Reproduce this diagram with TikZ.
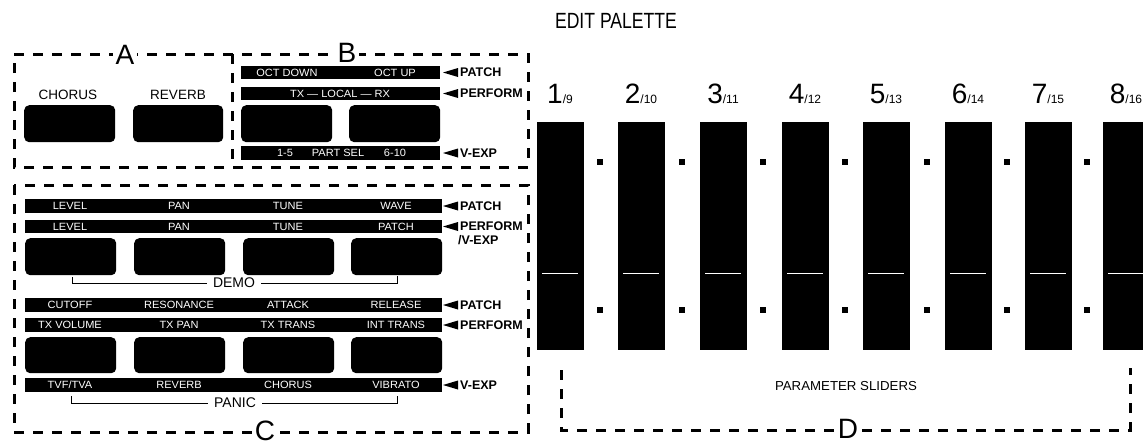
\documentclass[tikz,border=0pt]{standalone}
\usepackage{fontspec}
\setmainfont{Liberation Sans}
\newcommand\bignum[1]{{\fontsize{28}{28}\selectfont #1}}
\newcommand\smallnum[1]{{\fontsize{12}{12}\selectfont #1}}
\begin{document}
\begin{tikzpicture}[x=1pt,y=-1pt,
  bar/.style={fill=black, draw=none, inner sep=0pt, anchor=north west},
  btn/.style={fill=black, draw=none, rounded corners=5pt, inner sep=0pt, anchor=north west},
  bt/.style={text=white, inner sep=0pt, font=\fontsize{10.5}{11}\selectfont, xscale=1.05},
  lab/.style={inner sep=0pt, anchor=west, font=\bfseries\fontsize{12.5}{13}\selectfont},
  head/.style={inner sep=0pt, font=\fontsize{13.5}{14}\selectfont},
  dbox/.style={draw=black, line width=3pt, dash pattern=on 10pt off 9pt},
  letter/.style={fill=white, inner xsep=3pt, inner ysep=0.5pt, font=\fontsize{28}{28}\selectfont},
  thin/.style={draw=black, line width=0.8pt},
  slider/.style={fill=black, draw=none, inner sep=0pt, anchor=north west, minimum width=47pt, minimum height=228pt}
]
\useasboundingbox (0,0) rectangle (1143,445);
\fill[white] (0,0) rectangle (1143,445);

% title
\node[font=\fontsize{22}{22}\selectfont, xscale=0.8, inner sep=0pt] (title) at (616,20.5) {EDIT PALETTE};

% boxes A and B
\draw[dbox] (14,54) -- (528,54) -- (528,167) -- (14,167) -- cycle;
\draw[dbox] (232,54) -- (232,167);
\node[letter] (lA) at (125,55) {A};
\node[letter] (lB) at (347,53) {B};

% box C
\draw[dbox] (14,185) rectangle (528,432);
\node[letter] (lC) at (265,431) {C};

% box D
\draw[dbox] (561,370) -- (561,430) -- (1130,430) -- (1130,368);
\node[letter] (lD) at (848,429) {D};
\node[inner sep=0pt, font=\fontsize{13}{13}\selectfont, xscale=1.02] (psl) at (846,386) {PARAMETER SLIDERS};

% ---- A content
\node[head] (hch) at (68,95) {CHORUS};
\node[head] (hrv) at (178,95) {REVERB};
\node[btn, minimum width=91pt, minimum height=37pt] (abt1) at (24,105) {};
\node[btn, minimum width=90pt, minimum height=37pt] (abt2) at (133,105) {};

% ---- B content
\node[bar, minimum width=199pt, minimum height=13pt] (bb1) at (241,66) {};
\node[bar, minimum width=199pt, minimum height=13pt] (bb2) at (241,87) {};
\node[btn, minimum width=91pt, minimum height=37pt] (bbt1) at (241,105) {};
\node[btn, minimum width=91pt, minimum height=37pt] (bbt2) at (349,105) {};
\node[bar, minimum width=199pt, minimum height=14pt] (bb3) at (241,146) {};
\node[bt] (t1) at (287,72.5) {OCT DOWN};
\node[bt] (t2) at (395,72.5) {OCT UP};
\node[bt] (t3) at (340,93.5) {TX — LOCAL — RX};
\node[bt] (t4) at (285,153) {1-5};
\node[bt] (t5) at (338,153) {PART SEL};
\node[bt] (t6) at (395,153) {6-10};
\foreach \y/\t/\n in {72.5/PATCH/bl1, 93.5/PERFORM/bl2, 153/V-EXP/bl3}{
  \fill (443,\y) -- (458,\y-4.5) -- (458,\y+4.5) -- cycle;
  \node[lab] (\n) at (460,\y) {\t};
}

% ---- C content
\node[bar, minimum width=417pt, minimum height=14pt] (cb1) at (25,199) {};
\node[bar, minimum width=417pt, minimum height=13pt] (cb2) at (25,220) {};
\node[bar, minimum width=417pt, minimum height=14pt] (cb3) at (25,298) {};
\node[bar, minimum width=417pt, minimum height=14pt] (cb4) at (25,318) {};
\node[bar, minimum width=417pt, minimum height=14pt] (cb5) at (25,378) {};
\foreach \x [count=\k] in {25,134,243,351}{
  \node[btn, minimum width=91pt, minimum height=37pt] (cu\k) at (\x,238) {};
  \node[btn, minimum width=91pt, minimum height=36pt] (cl\k) at (\x,337) {};
}
\foreach \x/\t [count=\k] in {70/LEVEL,179/PAN,288/TUNE,396/WAVE}
  \node[bt] (ra\k) at (\x,206) {\t};
\foreach \x/\t [count=\k] in {70/LEVEL,179/PAN,288/TUNE,396/PATCH}
  \node[bt] (rb\k) at (\x,226.5) {\t};
\foreach \x/\t [count=\k] in {70/CUTOFF,179/RESONANCE,288/ATTACK,396/RELEASE}
  \node[bt] (rc\k) at (\x,305) {\t};
\foreach \x/\t [count=\k] in {70/TX VOLUME,179/TX PAN,288/TX TRANS,396/INT TRANS}
  \node[bt] (rd\k) at (\x,325) {\t};
\foreach \x/\t [count=\k] in {70/{TVF/TVA},179/REVERB,288/CHORUS,396/VIBRATO}
  \node[bt] (re\k) at (\x,385) {\t};
\foreach \y/\t/\n in {206/PATCH/cl1, 226.5/PERFORM/cl2, 305/PATCH/cl3, 325/PERFORM/cl4, 385/V-EXP/cl5}{
  \fill (443,\y) -- (458,\y-4.5) -- (458,\y+4.5) -- cycle;
  \node[lab] (\n) at (460,\y) {\t};
}
\node[lab] (cl2b) at (458,240.5) {/V-EXP};

% DEMO and PANIC brackets
\node[head, inner sep=6pt, font=\fontsize{14}{14}\selectfont] (demo) at (234,283) {DEMO};
\coordinate (dL) at (72,277);
\coordinate (dR) at (397,276);
\draw[thin] (dL) -- (dL |- demo.west) -- (demo.west);
\draw[thin] (demo.east) -- (dR |- demo.east) -- (dR);
\node[head, inner sep=6pt, font=\fontsize{14}{14}\selectfont] (panic) at (235,403) {PANIC};
\coordinate (pL) at (71,396);
\coordinate (pR) at (397,396);
\draw[thin] (pL) -- (pL |- panic.west) -- (panic.west);
\draw[thin] (panic.east) -- (pR |- panic.east) -- (pR);

% ---- sliders
\foreach \x/\a/\b [count=\k] in {537/1/9, 618/2/10, 700/3/11, 782/4/12, 863/5/13, 945/6/14, 1025/7/15, 1103/8/16}{
  \node[slider] (s\k) at (\x,122) {};
  \draw[white, line width=1pt] (\x+5,273) -- (\x+41,273);
  \node[anchor=base, inner sep=0pt] (n\k) at (\x+23,103) {\bignum{\a}\smallnum{/\b}};
}
\foreach \x in {600,682,763,845,927,1007,1087}{
  \fill (\x-3,159) rectangle (\x+3,165);
  \fill (\x-3,307) rectangle (\x+3,313);
}
\end{tikzpicture}
\end{document}
